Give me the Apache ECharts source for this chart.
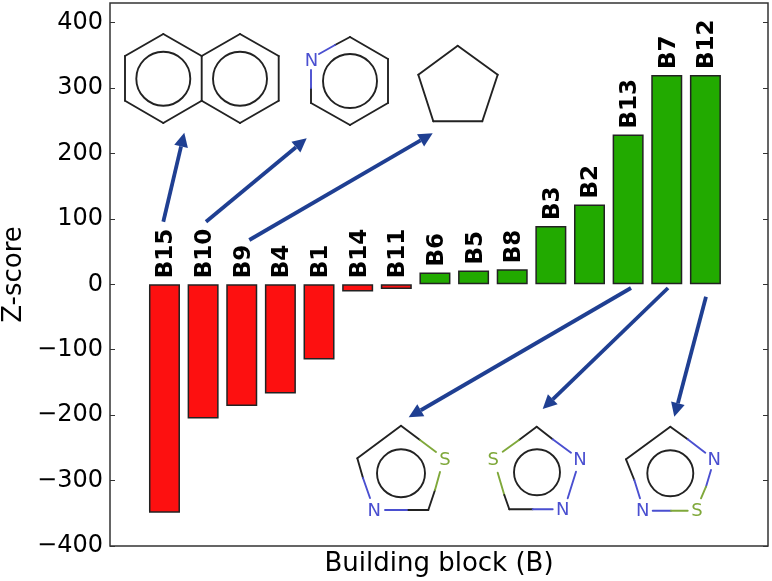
<!DOCTYPE html>
<html>
<head>
<meta charset="utf-8">
<title>Z-score</title>
<script src="https://cdn.jsdelivr.net/npm/echarts@6/dist/echarts.min.js"></script>
<style>
  html, body { margin: 0; padding: 0; background: #fff; }
  #main { width: 772px; height: 581px; }
</style>
</head>
<body>
<div id="main"></div>
<script>
const blocks = ['B15','B10','B9','B4','B1','B14','B11','B6','B5','B8','B3','B2','B13','B7','B12'];
const zScores = [-349,-205,-186,-167,-115,-11,-7,18,21,23,89,122,229,320,320];
const yTicks = [-400,-300,-200,-100,0,100,200,300,400];

const FONT = 'DejaVu Sans';
const BOND = '#222';
const NCOL = '#4a4fd0';
const SCOL = '#7fa83a';
const ARROW = '#1f3f92';

const graphics = [];
function bond(x1, y1, x2, y2, color) {
  graphics.push({ type: 'line', silent: true, z: 20,
    shape: { x1, y1, x2, y2 },
    style: { stroke: color || BOND, lineWidth: 1.9, lineCap: 'round' } });
}
function ring(cx, cy, r) {
  graphics.push({ type: 'circle', silent: true, z: 20,
    shape: { cx, cy, r },
    style: { fill: 'none', stroke: BOND, lineWidth: 1.9 } });
}
function atom(x, y, text, color) {
  graphics.push({ type: 'text', silent: true, z: 20, x, y,
    style: { text, fill: color, font: '18px ' + FONT, align: 'center', verticalAlign: 'middle' } });
}
function path(pts) {
  for (let i = 0; i < pts.length - 1; i++) bond(pts[i][0], pts[i][1], pts[i+1][0], pts[i+1][1]);
}
function arrow(x1, y1, x2, y2) {
  const a = Math.atan2(y2 - y1, x2 - x1);
  const len = 14, half = 7;
  const bx = x2 - len * Math.cos(a), by = y2 - len * Math.sin(a);
  graphics.push({ type: 'line', silent: true, z: 21,
    shape: { x1, y1, x2: bx, y2: by },
    style: { stroke: ARROW, lineWidth: 3.8 } });
  graphics.push({ type: 'polygon', silent: true, z: 21,
    shape: { points: [[x2, y2],
      [bx - half * Math.sin(a), by + half * Math.cos(a)],
      [bx + half * Math.sin(a), by - half * Math.cos(a)]] },
    style: { fill: ARROW } });
}

// naphthalene
path([[201.7,56],[163.3,34],[125,56],[125,100.7],[163.3,123],[201.7,100.7],[201.7,56],[240,34],[278.7,56],[278.7,100.7],[240,123],[201.7,100.7]]);
ring(163.3, 78.7, 27);
ring(240, 78.7, 27);
// pyridine
path([[335,45],[350,37],[388,59],[388,103],[350,125],[311,103],[311,88]]);
bond(319, 54, 335, 45, NCOL);
bond(311, 88, 311, 70, NCOL);
atom(311.5, 61, 'N', NCOL);
ring(350, 81, 27);
// cyclopentane
path([[457.7,45.7],[497.7,74.7],[482.3,121.3],[433.3,121.3],[418.3,74.7],[457.7,45.7]]);
// thiazole
path([[357.3,458.3],[401,425.7],[420,440]]);
bond(420, 440, 436, 452, SCOL);
path([[428.3,510],[407,510]]);
bond(407, 510, 385, 510, NCOL);
bond(428.3, 510, 435, 490);
bond(435, 490, 440, 472, SCOL);
bond(357.3, 458.3, 363, 478);
bond(363, 478, 370, 498, NCOL);
atom(445, 460, 'S', SCOL);
atom(374.3, 511.7, 'N', NCOL);
ring(401, 473.3, 24);
// thiadiazole
path([[519,440],[536.7,426.7],[552.7,439.3]]);
bond(552.7, 439.3, 571, 452.7, NCOL);
bond(519, 440, 502.7, 451.7, SCOL);
bond(497.7, 472.7, 504.3, 495, SCOL);
path([[504.3,495],[509.3,509.3],[532.7,509.3]]);
bond(532.7, 509.3, 552.7, 509.3, NCOL);
bond(576, 471.7, 567.7, 498.3, NCOL);
atom(493.3, 460, 'S', SCOL);
atom(580, 460, 'N', NCOL);
atom(562.7, 510, 'N', NCOL);
ring(537, 472.3, 23);
// 1,2,5-thiadiazole
path([[634.3,480],[626,459.3],[670.3,426.7],[687.7,439.3]]);
bond(687.7, 439.3, 705.3, 452.7, NCOL);
bond(634.3, 480, 640, 498.3, NCOL);
bond(652.7, 510.7, 671, 510.7, NCOL);
bond(671, 510.7, 687.7, 510.7, SCOL);
bond(711, 470, 706, 486.7, NCOL);
bond(706, 486.7, 701, 498.3, SCOL);
atom(642.7, 511.7, 'N', NCOL);
atom(697, 511.7, 'S', SCOL);
atom(714.3, 460, 'N', NCOL);
ring(670.3, 473.3, 23);

arrow(163.3, 221.7, 184.3, 132.7);
arrow(206, 221.7, 306.7, 138.3);
arrow(249.3, 240, 432.7, 133.3);
arrow(631, 288, 408.7, 417.3);
arrow(668, 288, 542.7, 409);
arrow(706, 296.7, 674.3, 416.7);

const barData = zScores.map((v, i) => ({
  value: [i, v],
  itemStyle: { color: v < 0 ? '#fd1010' : '#22aa00' }
}));
const labelData = zScores.map((v, i) => [i, Math.max(v, 0), blocks[i]]);

const chart = echarts.init(document.getElementById('main'), null, { renderer: 'canvas' });
chart.setOption({
  animation: false,
  backgroundColor: '#fff',
  textStyle: { fontFamily: FONT },
  grid: { left: 110, right: 4, top: 3, bottom: 35, outerBoundsMode: 'none',
    show: true, borderColor: '#333', borderWidth: 1.5, backgroundColor: 'transparent' },
  xAxis: {
    type: 'value', min: -1.41, max: 15.62,
    name: 'Building block (B)', nameLocation: 'middle', nameGap: 5,
    nameTextStyle: { fontFamily: FONT, fontSize: 26, color: '#000', verticalAlign: 'top' },
    axisLine: { show: false, onZero: false }, axisTick: { show: false },
    axisLabel: { show: false }, splitLine: { show: false }
  },
  yAxis: [{
    type: 'value', min: -400, max: 430, interval: 100,
    name: 'Z-score', nameLocation: 'middle', nameGap: 96, nameMoveOverlap: false,
    nameTextStyle: { fontFamily: FONT, fontSize: 26, color: '#000', verticalAlign: 'middle' },
    axisLine: { show: false, onZero: false },
    axisTick: { inside: true, length: 5, lineStyle: { color: '#333', width: 1 }, customValues: yTicks },
    axisLabel: { fontFamily: FONT, fontSize: 24, color: '#000', margin: 7, customValues: yTicks,
      formatter: v => String(v).replace('-', '\u2212') },
    splitLine: { show: false }
  }, {
    type: 'value', min: -400, max: 430, interval: 100, position: 'right',
    axisLine: { show: false, onZero: false },
    axisTick: { inside: true, length: 5, lineStyle: { color: '#333', width: 1 }, customValues: yTicks },
    axisLabel: { show: false }, splitLine: { show: false }
  }],
  series: [{
    type: 'bar', data: barData, barWidth: 31,
    itemStyle: { borderColor: '#222', borderWidth: 1.5 }
  }, {
    type: 'scatter', data: labelData, symbolSize: 0, silent: true,
    itemStyle: { opacity: 1 },
    label: {
      show: true, position: 'top', rotate: 90, distance: 6, offset: [0, 2],
      align: 'left', verticalAlign: 'middle',
      fontFamily: FONT, fontWeight: 'bold', fontSize: 23, color: '#000',
      formatter: p => p.value[2]
    }
  }],
  graphic: graphics
});
</script>
</body>
</html>
